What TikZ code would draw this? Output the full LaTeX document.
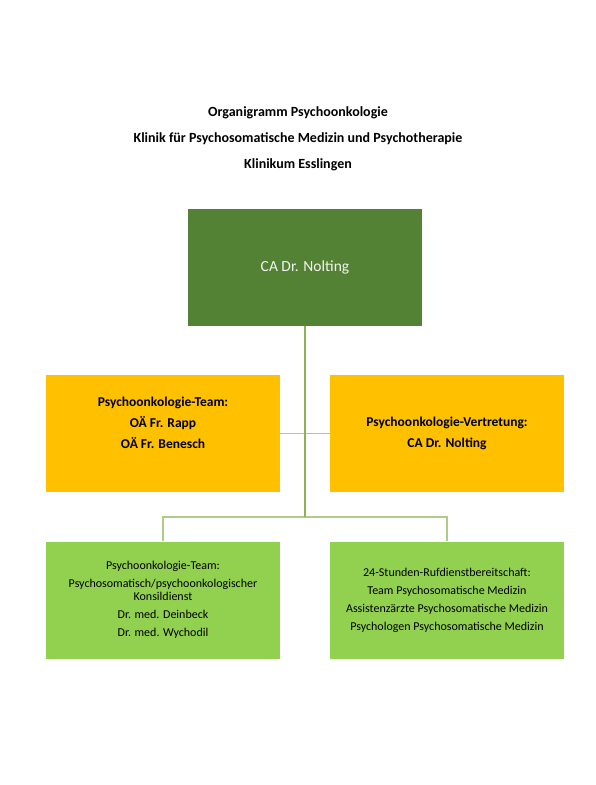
\documentclass[tikz,border=0pt]{standalone}
\usepackage{fontspec}
\setmainfont{Carlito}
\definecolor{chiefgreen}{RGB}{84,130,53}
\definecolor{teamgold}{RGB}{255,192,0}
\definecolor{staffgreen}{RGB}{146,208,80}
\definecolor{linkgreen}{RGB}{174,204,134}
\definecolor{trunkgreen}{RGB}{141,178,85}
\tikzset{
  unit/.style={minimum width=234pt, minimum height=117pt, inner sep=0pt, align=center},
  link/.style={draw=linkgreen, line width=1.1pt},
  trunk/.style={draw=trunkgreen, line width=1.5pt},
  heading/.style={font=\bfseries\fontsize{14}{16}\selectfont, inner sep=0pt}
}
\begin{document}
\begin{tikzpicture}[x=1pt, y=-1pt]
	\useasboundingbox (0,0) rectangle (595,785);

	\node[heading] (title1) at (298,113) {Organigramm Psychoonkologie};
	\node[heading] (title2) at (298,139) {Klinik für Psychosomatische Medizin und Psychotherapie};
	\node[heading] (title3) at (298,165) {Klinikum Esslingen};

	\node[unit, fill=chiefgreen, text=white!95!black, font=\fontsize{15.5}{18}\selectfont] (chief) at (305,267.5) {CA Dr. Nolting};

	\node[unit, fill=teamgold, font=\bfseries\fontsize{13.5}{16}\selectfont] (team) at (163,433.5)
		{Psychoonkologie-Team:\\[5pt] OÄ Fr. Rapp\\[5pt] OÄ Fr. Benesch\\[5pt] \mbox{}};
	\node[unit, fill=teamgold, font=\bfseries\fontsize{13.5}{16}\selectfont] (deputy) at (447,433.5)
		{Psychoonkologie-Vertretung:\\[5pt] CA Dr. Nolting};

	\node[unit, fill=staffgreen, font=\fontsize{12}{13}\selectfont] (consult) at (163,600)
		{Psychoonkologie-Team:\\[5pt] Psychosomatisch/psychoonkologischer\\ Konsildienst\\[5pt]
		 Dr. med. Deinbeck\\[5pt] Dr. med. Wychodil};
	\node[unit, fill=staffgreen, font=\fontsize{12}{13}\selectfont] (oncall) at (447,600)
		{24-Stunden-Rufdienstbereitschaft:\\[5pt] Team Psychosomatische Medizin\\[5pt]
		 Assistenzärzte Psychosomatische Medizin\\[5pt] Psychologen Psychosomatische Medizin};

	\coordinate (hub) at (305,517);
	\draw[link] (team.east) -- (deputy.west);
	\draw[link] (consult.north) |- (hub) -| (oncall.north);
	\draw[trunk] (chief.south) -- (hub);
\end{tikzpicture}
\end{document}
